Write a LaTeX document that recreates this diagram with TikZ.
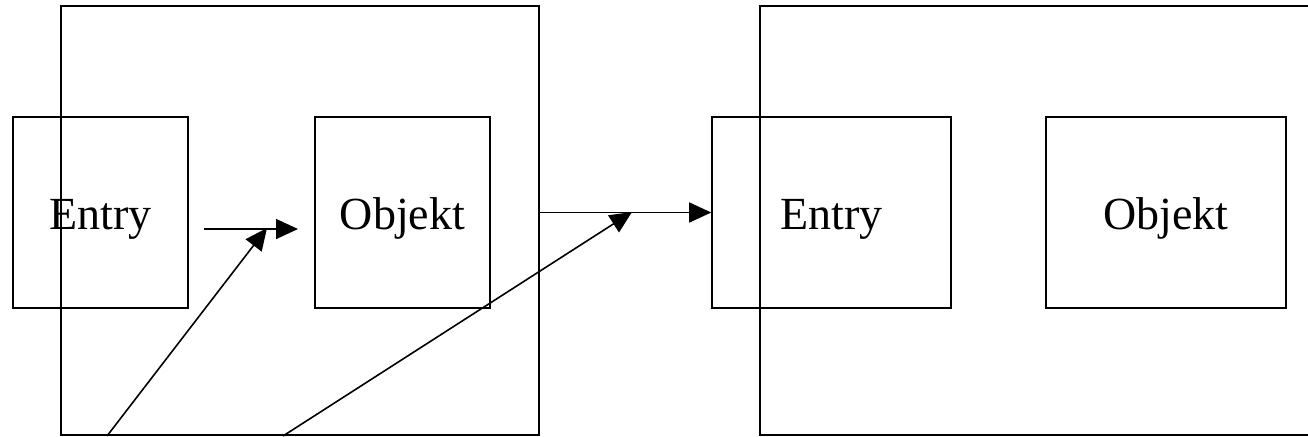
\documentclass[tikz,border=0pt]{standalone}
\usepackage{fontspec}
\setmainfont{Liberation Serif}
\usepackage{tikz}
\usetikzlibrary{arrows.meta,positioning}

\begin{document}
\begin{tikzpicture}[
    x=0.5pt, y=-0.5pt,
    frame/.style={draw, line width=0.8pt, inner sep=0pt, minimum height=214.5pt},
    box/.style={draw, line width=0.8pt, inner sep=0pt, minimum height=95.5pt,
                text height=16.5pt, text depth=0pt,
                font=\fontsize{23}{27}\selectfont},
    link/.style={line width=0.8pt, -{Triangle[length=11pt,width=10pt]}}
]
% page size as in the reference (1 unit = 1 px)
\useasboundingbox (0,0) rectangle (1308,436);

% Outer frames (right one runs past the page)
\node[frame, minimum width=239pt] (frameL) at (300,220.5) {};
\node[frame, minimum width=285pt] (frameR) at (1045,220.5) {};

% Entry / Objekt boxes
\node[box, minimum width=87.5pt]  (entryA)  at (100.5,212.5) {Entry};
\node[box, minimum width=87.5pt]  (objektA) at (402.5,212.5) {Objekt};
\node[box, minimum width=119.5pt] (entryB)  at (831.5,212.5) {Entry};
\node[box, minimum width=120pt]   (objektB) at (1166,212.5)  {Objekt};

% free ends of the arrows
\coordinate (startA) at (204,229);
\coordinate (endA)   at (298,229);
\coordinate (footA)  at (107,436);
\coordinate (tipA)   at (267,228);
\coordinate (footB)  at (283,436);
\coordinate (tipB)   at (632,212);

% Arrows
\draw[link] (startA) -- (endA);
\draw[link] (footA) -- (tipA);
\draw[link] (frameL.east |- entryB.west) -- (entryB.west);
\draw[link] (footB) -- (tipB);
\end{tikzpicture}
\end{document}
